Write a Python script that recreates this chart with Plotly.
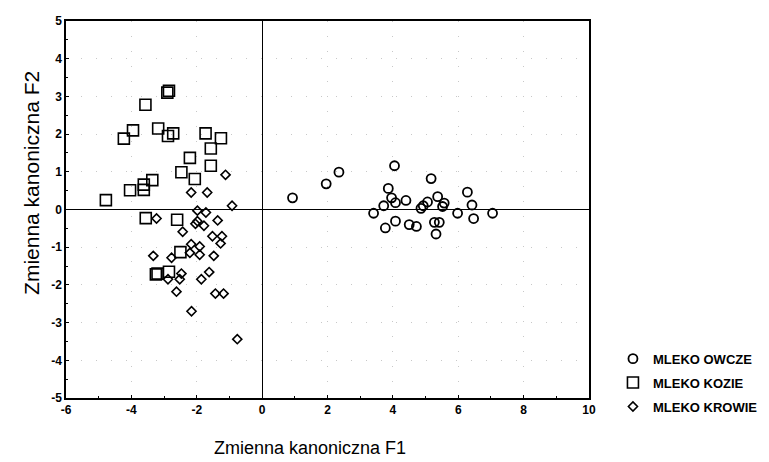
import plotly.graph_objects as go

# MLEKO OWCZE (circles)
owcze_f1 = [0.93, 1.96, 2.35, 4.05, 5.17, 3.86, 3.96, 4.08, 3.72, 4.40, 3.41, 4.86, 4.93, 5.06, 5.37,
            5.57, 5.52, 5.98, 6.28, 6.42, 6.47, 7.05, 3.77, 4.08, 4.50, 4.72, 5.27, 5.42, 5.32]
owcze_f2 = [0.31, 0.68, 0.99, 1.16, 0.82, 0.56, 0.31, 0.18, 0.10, 0.24, -0.10, 0.03, 0.10, 0.20, 0.34,
            0.17, 0.08, -0.10, 0.46, 0.12, -0.24, -0.10, -0.49, -0.31, -0.40, -0.45, -0.34, -0.34, -0.65]

# MLEKO KOZIE (squares)
kozie_f1 = [-2.85, -2.90, -3.57, -3.95, -4.23, -3.18, -2.88, -2.72, -1.73, -1.26, -1.57, -2.21, -1.57,
            -2.47, -2.06, -3.36, -3.62, -3.62, -4.04, -4.78, -3.56, -2.60, -2.50, -2.85, -3.25, -3.20]
kozie_f2 = [3.15, 3.10, 2.78, 2.10, 1.88, 2.15, 1.95, 2.02, 2.02, 1.89, 1.62, 1.37, 1.16,
            0.99, 0.81, 0.78, 0.66, 0.52, 0.51, 0.25, -0.23, -0.27, -1.13, -1.65, -1.72, -1.70]

# MLEKO KROWIE (diamonds)
krowie_f1 = [-2.17, -1.68, -1.12, -3.23, -1.98, -1.72, -0.92, -1.98, -2.04, -1.78, -1.36, -2.43, -1.52,
             -1.23, -1.27, -2.17, -1.91, -2.21, -1.91, -1.48, -3.33, -2.77, -2.47, -1.62, -2.88, -2.52,
             -1.86, -2.62, -1.43, -1.18, -2.16, -0.76]
krowie_f2 = [0.45, 0.45, 0.92, -0.24, -0.03, -0.08, 0.10, -0.31, -0.38, -0.43, -0.29, -0.59, -0.71,
             -0.71, -0.90, -0.92, -0.98, -1.15, -1.20, -1.23, -1.23, -1.28, -1.70, -1.66, -1.85, -1.85,
             -1.85, -2.18, -2.23, -2.23, -2.70, -3.44]

series_names = ["MLEKO OWCZE", "MLEKO KOZIE", "MLEKO KROWIE"]
x_ticks = [-6, -4, -2, 0, 2, 4, 6, 8, 10]
y_ticks = [-5, -4, -3, -2, -1, 0, 1, 2, 3, 4, 5]

tick_font = dict(family="Liberation Sans, Arial", size=12, color="black", weight="bold")

fig = go.Figure()
fig.add_trace(go.Scatter(
    x=owcze_f1, y=owcze_f2, mode="markers", name=series_names[0], legendgroup="a",
    marker=dict(symbol="circle-open", size=9, color="black", line=dict(width=1.8, color="black"))))
fig.add_trace(go.Scatter(
    x=kozie_f1, y=kozie_f2, mode="markers", name=series_names[1], legendgroup="b",
    marker=dict(symbol="square-open", size=11, color="black", line=dict(width=1.6, color="black"))))
fig.add_trace(go.Scatter(
    x=krowie_f1, y=krowie_f2, mode="markers", name=series_names[2], legendgroup="c",
    marker=dict(symbol="diamond-open", size=7, color="black", line=dict(width=1.6, color="black"))))

axis_common = dict(
    showline=True, linecolor="black", linewidth=1.5, mirror=True,
    ticks="inside", ticklen=3, tickwidth=1, tickcolor="black",
    showgrid=True, gridcolor="#c8c8c8", gridwidth=1, griddash="1px,14px",
    zeroline=True, zerolinecolor="black", zerolinewidth=1.3,
    tickfont=tick_font,
)

fig.update_xaxes(range=[-6, 10], tickmode="array", tickvals=x_ticks,
                 ticktext=[str(v) for v in x_ticks],
                 minor=dict(dtick=1, ticks="inside", ticklen=2, tickcolor="black", showgrid=False),
                 **axis_common)
fig.update_yaxes(range=[-5, 5], tickmode="array", tickvals=y_ticks,
                 ticktext=[str(v) for v in y_ticks],
                 minor=dict(dtick=0.5, ticks="inside", ticklen=2, tickcolor="black", showgrid=False),
                 **axis_common)

fig.add_annotation(text="Zmienna kanoniczna F1", xref="paper", yref="paper",
                   x=(310 - 66) / 524, y=(398 - 449) / 382, showarrow=False,
                   xanchor="center", yanchor="middle",
                   font=dict(family="Liberation Sans, Arial", size=18, color="black"))
fig.add_annotation(text="Zmienna kanoniczna F2", xref="paper", yref="paper",
                   x=(32 - 66) / 524, y=(398 - 180) / 382, showarrow=False, textangle=-90,
                   xanchor="center", yanchor="middle",
                   font=dict(family="Liberation Sans, Arial", size=21, color="black"))

fig.update_layout(
    width=761, height=454,
    margin=dict(l=58, r=179, t=6, b=64),
    paper_bgcolor="white", plot_bgcolor="white",
    showlegend=True,
    legend=dict(x=(614 - 66) / 524, xanchor="left", y=(398 - 343) / 382, yanchor="top",
                font=dict(family="Liberation Sans, Arial", size=13, color="black", weight="bold"),
                tracegroupgap=4, traceorder="grouped", bgcolor="rgba(0,0,0,0)"),
)

fig.write_html("out.html")
